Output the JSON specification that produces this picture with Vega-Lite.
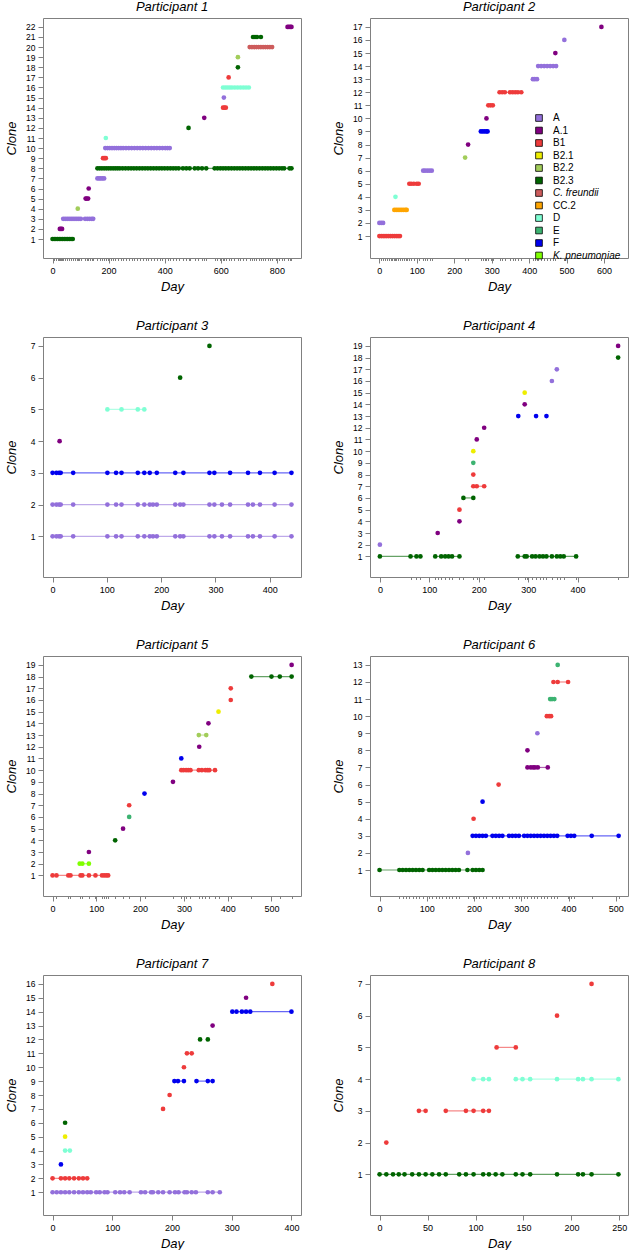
{
"$schema": "https://vega.github.io/schema/vega-lite/v6.json",
"padding": {"left": 4, "right": 0, "top": 0, "bottom": 0},
"background": "white",
"config": {
 "font": "Liberation Sans",
 "view": {"stroke": "#808080", "strokeWidth": 1},
 "title": {"fontSize": 13, "fontStyle": "italic", "fontWeight": "normal", "offset": 4, "color": "#000"},
 "axis": {"grid": false, "domain": false, "tickColor": "#808080", "tickSize": 5, "labelFontSize": 9, "labelColor": "#000", "labelPadding": 3, "titleFontSize": 13, "titleFontStyle": "italic", "titleFontWeight": "normal", "titleColor": "#000", "labelOverlap": false},
 "axisY": {"labelFontSize": 8.5, "minExtent": 17, "maxExtent": 17, "titlePadding": 8},
 "axisX": {"titlePadding": 5, "labelFlush": false}
},
"datasets": {
"p1": [
{"day":0,"clone":1,"group":"B2.3"},{"day":6,"clone":1,"group":"B2.3"},{"day":12,"clone":1,"group":"B2.3"},{"day":18,"clone":1,"group":"B2.3"},{"day":24,"clone":1,"group":"B2.3"},{"day":30,"clone":1,"group":"B2.3"},{"day":36,"clone":1,"group":"B2.3"},{"day":42,"clone":1,"group":"B2.3"},{"day":48,"clone":1,"group":"B2.3"},{"day":54,"clone":1,"group":"B2.3"},{"day":60,"clone":1,"group":"B2.3"},{"day":66,"clone":1,"group":"B2.3"},{"day":72,"clone":1,"group":"B2.3"},
{"day":26,"clone":2,"group":"A.1"},{"day":30,"clone":2,"group":"A.1"},{"day":34,"clone":2,"group":"A.1"},
{"day":38,"clone":3,"group":"A"},{"day":45,"clone":3,"group":"A"},{"day":52,"clone":3,"group":"A"},{"day":59,"clone":3,"group":"A"},{"day":66,"clone":3,"group":"A"},{"day":73,"clone":3,"group":"A"},{"day":80,"clone":3,"group":"A"},{"day":87,"clone":3,"group":"A"},{"day":94,"clone":3,"group":"A"},{"day":101,"clone":3,"group":"A"},{"day":116,"clone":3,"group":"A"},{"day":124,"clone":3,"group":"A"},{"day":132,"clone":3,"group":"A"},{"day":140,"clone":3,"group":"A"},{"day":145,"clone":3,"group":"A"},
{"day":90,"clone":4,"group":"B2.2"},
{"day":118,"clone":5,"group":"A.1"},{"day":122,"clone":5,"group":"A.1"},{"day":127,"clone":5,"group":"A.1"},
{"day":129,"clone":6,"group":"A.1"},
{"day":160,"clone":7,"group":"A"},{"day":166,"clone":7,"group":"A"},{"day":172,"clone":7,"group":"A"},{"day":178,"clone":7,"group":"A"},{"day":184,"clone":7,"group":"A"},
{"day":160,"clone":8,"group":"B2.3"},{"day":168,"clone":8,"group":"B2.3"},{"day":176,"clone":8,"group":"B2.3"},{"day":184,"clone":8,"group":"B2.3"},{"day":192,"clone":8,"group":"B2.3"},{"day":200,"clone":8,"group":"B2.3"},{"day":208,"clone":8,"group":"B2.3"},{"day":216,"clone":8,"group":"B2.3"},{"day":224,"clone":8,"group":"B2.3"},{"day":232,"clone":8,"group":"B2.3"},{"day":240,"clone":8,"group":"B2.3"},{"day":250,"clone":8,"group":"B2.3"},{"day":260,"clone":8,"group":"B2.3"},{"day":270,"clone":8,"group":"B2.3"},{"day":280,"clone":8,"group":"B2.3"},{"day":290,"clone":8,"group":"B2.3"},{"day":300,"clone":8,"group":"B2.3"},{"day":310,"clone":8,"group":"B2.3"},{"day":320,"clone":8,"group":"B2.3"},{"day":330,"clone":8,"group":"B2.3"},{"day":340,"clone":8,"group":"B2.3"},{"day":350,"clone":8,"group":"B2.3"},{"day":360,"clone":8,"group":"B2.3"},{"day":370,"clone":8,"group":"B2.3"},{"day":380,"clone":8,"group":"B2.3"},{"day":390,"clone":8,"group":"B2.3"},{"day":400,"clone":8,"group":"B2.3"},{"day":410,"clone":8,"group":"B2.3"},{"day":420,"clone":8,"group":"B2.3"},{"day":430,"clone":8,"group":"B2.3"},{"day":440,"clone":8,"group":"B2.3"},{"day":450,"clone":8,"group":"B2.3"},{"day":465,"clone":8,"group":"B2.3"},{"day":477,"clone":8,"group":"B2.3"},{"day":489,"clone":8,"group":"B2.3"},{"day":507,"clone":8,"group":"B2.3"},{"day":519,"clone":8,"group":"B2.3"},{"day":533,"clone":8,"group":"B2.3"},{"day":548,"clone":8,"group":"B2.3"},{"day":578,"clone":8,"group":"B2.3"},{"day":588,"clone":8,"group":"B2.3"},{"day":598,"clone":8,"group":"B2.3"},{"day":608,"clone":8,"group":"B2.3"},{"day":618,"clone":8,"group":"B2.3"},{"day":628,"clone":8,"group":"B2.3"},{"day":638,"clone":8,"group":"B2.3"},{"day":648,"clone":8,"group":"B2.3"},{"day":658,"clone":8,"group":"B2.3"},{"day":668,"clone":8,"group":"B2.3"},{"day":678,"clone":8,"group":"B2.3"},{"day":688,"clone":8,"group":"B2.3"},{"day":698,"clone":8,"group":"B2.3"},{"day":708,"clone":8,"group":"B2.3"},{"day":718,"clone":8,"group":"B2.3"},{"day":728,"clone":8,"group":"B2.3"},{"day":738,"clone":8,"group":"B2.3"},{"day":748,"clone":8,"group":"B2.3"},{"day":758,"clone":8,"group":"B2.3"},{"day":768,"clone":8,"group":"B2.3"},{"day":778,"clone":8,"group":"B2.3"},{"day":788,"clone":8,"group":"B2.3"},{"day":798,"clone":8,"group":"B2.3"},{"day":808,"clone":8,"group":"B2.3"},{"day":818,"clone":8,"group":"B2.3"},{"day":826,"clone":8,"group":"B2.3"},{"day":845,"clone":8,"group":"B2.3"},{"day":852,"clone":8,"group":"B2.3"},
{"day":180,"clone":9,"group":"B1"},{"day":185,"clone":9,"group":"B1"},{"day":190,"clone":9,"group":"B1"},
{"day":188,"clone":10,"group":"A"},{"day":196,"clone":10,"group":"A"},{"day":204,"clone":10,"group":"A"},{"day":212,"clone":10,"group":"A"},{"day":220,"clone":10,"group":"A"},{"day":228,"clone":10,"group":"A"},{"day":236,"clone":10,"group":"A"},{"day":244,"clone":10,"group":"A"},{"day":252,"clone":10,"group":"A"},{"day":262,"clone":10,"group":"A"},{"day":272,"clone":10,"group":"A"},{"day":282,"clone":10,"group":"A"},{"day":292,"clone":10,"group":"A"},{"day":302,"clone":10,"group":"A"},{"day":312,"clone":10,"group":"A"},{"day":322,"clone":10,"group":"A"},{"day":332,"clone":10,"group":"A"},{"day":342,"clone":10,"group":"A"},{"day":352,"clone":10,"group":"A"},{"day":362,"clone":10,"group":"A"},{"day":372,"clone":10,"group":"A"},{"day":382,"clone":10,"group":"A"},{"day":392,"clone":10,"group":"A"},{"day":402,"clone":10,"group":"A"},{"day":410,"clone":10,"group":"A"},{"day":418,"clone":10,"group":"A"},
{"day":190,"clone":11,"group":"D"},
{"day":485,"clone":12,"group":"B2.3"},
{"day":541,"clone":13,"group":"A.1"},
{"day":608,"clone":14,"group":"B1"},{"day":613,"clone":14,"group":"B1"},{"day":618,"clone":14,"group":"B1"},
{"day":611,"clone":15,"group":"A"},
{"day":608,"clone":16,"group":"D"},{"day":616,"clone":16,"group":"D"},{"day":624,"clone":16,"group":"D"},{"day":632,"clone":16,"group":"D"},{"day":640,"clone":16,"group":"D"},{"day":650,"clone":16,"group":"D"},{"day":660,"clone":16,"group":"D"},{"day":670,"clone":16,"group":"D"},{"day":680,"clone":16,"group":"D"},{"day":690,"clone":16,"group":"D"},{"day":700,"clone":16,"group":"D"},
{"day":628,"clone":17,"group":"B1"},
{"day":661,"clone":18,"group":"B2.3"},
{"day":661,"clone":19,"group":"B2.2"},
{"day":703,"clone":20,"group":"C. freundii"},{"day":711,"clone":20,"group":"C. freundii"},{"day":719,"clone":20,"group":"C. freundii"},{"day":727,"clone":20,"group":"C. freundii"},{"day":735,"clone":20,"group":"C. freundii"},{"day":743,"clone":20,"group":"C. freundii"},{"day":751,"clone":20,"group":"C. freundii"},{"day":759,"clone":20,"group":"C. freundii"},{"day":767,"clone":20,"group":"C. freundii"},{"day":775,"clone":20,"group":"C. freundii"},{"day":783,"clone":20,"group":"C. freundii"},
{"day":715,"clone":21,"group":"B2.3"},{"day":722,"clone":21,"group":"B2.3"},{"day":729,"clone":21,"group":"B2.3"},{"day":743,"clone":21,"group":"B2.3"},
{"day":838,"clone":22,"group":"A.1"},{"day":843,"clone":22,"group":"A.1"},{"day":848,"clone":22,"group":"A.1"},{"day":852,"clone":22,"group":"A.1"}
],
"p2": [
{"day":0,"clone":1,"group":"B1"},{"day":5,"clone":1,"group":"B1"},{"day":10,"clone":1,"group":"B1"},{"day":15,"clone":1,"group":"B1"},{"day":20,"clone":1,"group":"B1"},{"day":25,"clone":1,"group":"B1"},{"day":30,"clone":1,"group":"B1"},{"day":35,"clone":1,"group":"B1"},{"day":40,"clone":1,"group":"B1"},{"day":45,"clone":1,"group":"B1"},{"day":50,"clone":1,"group":"B1"},{"day":55,"clone":1,"group":"B1"},
{"day":0,"clone":2,"group":"A"},{"day":5,"clone":2,"group":"A"},{"day":10,"clone":2,"group":"A"},
{"day":40,"clone":3,"group":"CC.2"},{"day":45,"clone":3,"group":"CC.2"},{"day":50,"clone":3,"group":"CC.2"},{"day":55,"clone":3,"group":"CC.2"},{"day":60,"clone":3,"group":"CC.2"},{"day":65,"clone":3,"group":"CC.2"},{"day":70,"clone":3,"group":"CC.2"},{"day":73,"clone":3,"group":"CC.2"},
{"day":43,"clone":4,"group":"D"},
{"day":80,"clone":5,"group":"B1"},{"day":85,"clone":5,"group":"B1"},{"day":92,"clone":5,"group":"B1"},{"day":100,"clone":5,"group":"B1"},{"day":105,"clone":5,"group":"B1"},
{"day":117,"clone":6,"group":"A"},{"day":122,"clone":6,"group":"A"},{"day":128,"clone":6,"group":"A"},{"day":134,"clone":6,"group":"A"},{"day":140,"clone":6,"group":"A"},
{"day":229,"clone":7,"group":"B2.2"},
{"day":237,"clone":8,"group":"A.1"},
{"day":271,"clone":9,"group":"F"},{"day":276,"clone":9,"group":"F"},{"day":281,"clone":9,"group":"F"},{"day":286,"clone":9,"group":"F"},{"day":289,"clone":9,"group":"F"},
{"day":286,"clone":10,"group":"A.1"},
{"day":291,"clone":11,"group":"B1"},{"day":297,"clone":11,"group":"B1"},{"day":303,"clone":11,"group":"B1"},
{"day":321,"clone":12,"group":"B1"},{"day":328,"clone":12,"group":"B1"},{"day":335,"clone":12,"group":"B1"},{"day":349,"clone":12,"group":"B1"},{"day":356,"clone":12,"group":"B1"},{"day":363,"clone":12,"group":"B1"},{"day":370,"clone":12,"group":"B1"},{"day":379,"clone":12,"group":"B1"},
{"day":410,"clone":13,"group":"A"},{"day":415,"clone":13,"group":"A"},{"day":421,"clone":13,"group":"A"},
{"day":424,"clone":14,"group":"A"},{"day":432,"clone":14,"group":"A"},{"day":440,"clone":14,"group":"A"},{"day":448,"clone":14,"group":"A"},{"day":456,"clone":14,"group":"A"},{"day":464,"clone":14,"group":"A"},{"day":472,"clone":14,"group":"A"},
{"day":470,"clone":15,"group":"A.1"},
{"day":494,"clone":16,"group":"A"},
{"day":593,"clone":17,"group":"A.1"}
],
"p3": [
{"day":0,"clone":1,"group":"A"},{"day":7,"clone":1,"group":"A"},{"day":12,"clone":1,"group":"A"},{"day":15,"clone":1,"group":"A"},{"day":38,"clone":1,"group":"A"},{"day":101,"clone":1,"group":"A"},{"day":117,"clone":1,"group":"A"},{"day":127,"clone":1,"group":"A"},{"day":157,"clone":1,"group":"A"},{"day":169,"clone":1,"group":"A"},{"day":179,"clone":1,"group":"A"},{"day":185,"clone":1,"group":"A"},{"day":192,"clone":1,"group":"A"},{"day":226,"clone":1,"group":"A"},{"day":235,"clone":1,"group":"A"},{"day":241,"clone":1,"group":"A"},{"day":289,"clone":1,"group":"A"},{"day":298,"clone":1,"group":"A"},{"day":312,"clone":1,"group":"A"},{"day":327,"clone":1,"group":"A"},{"day":360,"clone":1,"group":"A"},{"day":369,"clone":1,"group":"A"},{"day":382,"clone":1,"group":"A"},{"day":409,"clone":1,"group":"A"},{"day":440,"clone":1,"group":"A"},
{"day":0,"clone":2,"group":"A"},{"day":7,"clone":2,"group":"A"},{"day":12,"clone":2,"group":"A"},{"day":15,"clone":2,"group":"A"},{"day":38,"clone":2,"group":"A"},{"day":101,"clone":2,"group":"A"},{"day":117,"clone":2,"group":"A"},{"day":127,"clone":2,"group":"A"},{"day":157,"clone":2,"group":"A"},{"day":169,"clone":2,"group":"A"},{"day":179,"clone":2,"group":"A"},{"day":185,"clone":2,"group":"A"},{"day":192,"clone":2,"group":"A"},{"day":226,"clone":2,"group":"A"},{"day":235,"clone":2,"group":"A"},{"day":241,"clone":2,"group":"A"},{"day":289,"clone":2,"group":"A"},{"day":298,"clone":2,"group":"A"},{"day":312,"clone":2,"group":"A"},{"day":327,"clone":2,"group":"A"},{"day":360,"clone":2,"group":"A"},{"day":369,"clone":2,"group":"A"},{"day":382,"clone":2,"group":"A"},{"day":409,"clone":2,"group":"A"},{"day":440,"clone":2,"group":"A"},
{"day":0,"clone":3,"group":"F"},{"day":7,"clone":3,"group":"F"},{"day":12,"clone":3,"group":"F"},{"day":15,"clone":3,"group":"F"},{"day":38,"clone":3,"group":"F"},{"day":101,"clone":3,"group":"F"},{"day":117,"clone":3,"group":"F"},{"day":127,"clone":3,"group":"F"},{"day":157,"clone":3,"group":"F"},{"day":169,"clone":3,"group":"F"},{"day":179,"clone":3,"group":"F"},{"day":192,"clone":3,"group":"F"},{"day":226,"clone":3,"group":"F"},{"day":241,"clone":3,"group":"F"},{"day":289,"clone":3,"group":"F"},{"day":298,"clone":3,"group":"F"},{"day":327,"clone":3,"group":"F"},{"day":360,"clone":3,"group":"F"},{"day":382,"clone":3,"group":"F"},{"day":409,"clone":3,"group":"F"},{"day":440,"clone":3,"group":"F"},
{"day":13,"clone":4,"group":"A.1"},
{"day":101,"clone":5,"group":"D"},{"day":127,"clone":5,"group":"D"},{"day":157,"clone":5,"group":"D"},{"day":169,"clone":5,"group":"D"},
{"day":235,"clone":6,"group":"B2.3"},
{"day":289,"clone":7,"group":"B2.3"}
],
"p4": [
{"day":0,"clone":1,"group":"B2.3","seg":"a"},{"day":62,"clone":1,"group":"B2.3","seg":"a"},{"day":74,"clone":1,"group":"B2.3","seg":"a"},{"day":82,"clone":1,"group":"B2.3","seg":"a"},
{"day":112,"clone":1,"group":"B2.3","seg":"b"},{"day":124,"clone":1,"group":"B2.3","seg":"b"},{"day":132,"clone":1,"group":"B2.3","seg":"b"},{"day":139,"clone":1,"group":"B2.3","seg":"b"},{"day":146,"clone":1,"group":"B2.3","seg":"b"},{"day":161,"clone":1,"group":"B2.3","seg":"b"},
{"day":279,"clone":1,"group":"B2.3","seg":"c"},{"day":293,"clone":1,"group":"B2.3","seg":"c"},{"day":297,"clone":1,"group":"B2.3","seg":"c"},{"day":308,"clone":1,"group":"B2.3","seg":"c"},{"day":315,"clone":1,"group":"B2.3","seg":"c"},{"day":323,"clone":1,"group":"B2.3","seg":"c"},{"day":330,"clone":1,"group":"B2.3","seg":"c"},{"day":337,"clone":1,"group":"B2.3","seg":"c"},{"day":348,"clone":1,"group":"B2.3","seg":"c"},{"day":358,"clone":1,"group":"B2.3","seg":"c"},{"day":365,"clone":1,"group":"B2.3","seg":"c"},{"day":372,"clone":1,"group":"B2.3","seg":"c"},{"day":397,"clone":1,"group":"B2.3","seg":"c"},
{"day":0,"clone":2,"group":"A"},
{"day":117,"clone":3,"group":"A.1"},
{"day":161,"clone":4,"group":"A.1"},
{"day":161,"clone":5,"group":"B1"},
{"day":169,"clone":6,"group":"B2.3"},{"day":189,"clone":6,"group":"B2.3"},
{"day":189,"clone":7,"group":"B1"},{"day":196,"clone":7,"group":"B1"},{"day":211,"clone":7,"group":"B1"},
{"day":189,"clone":8,"group":"B1"},
{"day":189,"clone":9,"group":"E"},
{"day":189,"clone":10,"group":"B2.1"},
{"day":196,"clone":11,"group":"A.1"},
{"day":211,"clone":12,"group":"A.1"},
{"day":280,"clone":13,"group":"F","seg":"a"},{"day":316,"clone":13,"group":"F","seg":"b"},{"day":337,"clone":13,"group":"F","seg":"c"},
{"day":293,"clone":14,"group":"A.1"},
{"day":293,"clone":15,"group":"B2.1"},
{"day":348,"clone":16,"group":"A"},
{"day":358,"clone":17,"group":"A"},
{"day":482,"clone":18,"group":"B2.3"},
{"day":482,"clone":19,"group":"A.1"}
],
"p5": [
{"day":0,"clone":1,"group":"B1"},{"day":9,"clone":1,"group":"B1"},{"day":36,"clone":1,"group":"B1"},{"day":41,"clone":1,"group":"B1"},{"day":64,"clone":1,"group":"B1"},{"day":68,"clone":1,"group":"B1"},{"day":83,"clone":1,"group":"B1"},{"day":98,"clone":1,"group":"B1"},{"day":113,"clone":1,"group":"B1"},{"day":118,"clone":1,"group":"B1"},{"day":123,"clone":1,"group":"B1"},{"day":127,"clone":1,"group":"B1"},
{"day":62,"clone":2,"group":"K. pneumoniae"},{"day":68,"clone":2,"group":"K. pneumoniae"},{"day":83,"clone":2,"group":"K. pneumoniae"},
{"day":83,"clone":3,"group":"A.1"},
{"day":143,"clone":4,"group":"B2.3"},
{"day":161,"clone":5,"group":"A.1"},
{"day":175,"clone":6,"group":"E"},
{"day":175,"clone":7,"group":"B1"},
{"day":210,"clone":8,"group":"F"},
{"day":275,"clone":9,"group":"A.1"},
{"day":294,"clone":10,"group":"B1"},{"day":299,"clone":10,"group":"B1"},{"day":305,"clone":10,"group":"B1"},{"day":310,"clone":10,"group":"B1"},{"day":315,"clone":10,"group":"B1"},{"day":334,"clone":10,"group":"B1"},{"day":341,"clone":10,"group":"B1"},{"day":349,"clone":10,"group":"B1"},{"day":354,"clone":10,"group":"B1"},{"day":358,"clone":10,"group":"B1"},{"day":371,"clone":10,"group":"B1"},
{"day":294,"clone":11,"group":"F"},
{"day":335,"clone":12,"group":"A.1"},
{"day":334,"clone":13,"group":"B2.2"},{"day":351,"clone":13,"group":"B2.2"},
{"day":356,"clone":14,"group":"A.1"},
{"day":379,"clone":15,"group":"B2.1"},
{"day":407,"clone":16,"group":"B1"},
{"day":407,"clone":17,"group":"B1"},
{"day":454,"clone":18,"group":"B2.3"},{"day":500,"clone":18,"group":"B2.3"},{"day":519,"clone":18,"group":"B2.3"},{"day":546,"clone":18,"group":"B2.3"},
{"day":546,"clone":19,"group":"A.1"}
],
"p6": [
{"day":0,"clone":1,"group":"B2.3"},{"day":42,"clone":1,"group":"B2.3"},{"day":49,"clone":1,"group":"B2.3"},{"day":56,"clone":1,"group":"B2.3"},{"day":63,"clone":1,"group":"B2.3"},{"day":70,"clone":1,"group":"B2.3"},{"day":77,"clone":1,"group":"B2.3"},{"day":84,"clone":1,"group":"B2.3"},{"day":91,"clone":1,"group":"B2.3"},{"day":105,"clone":1,"group":"B2.3"},{"day":112,"clone":1,"group":"B2.3"},{"day":119,"clone":1,"group":"B2.3"},{"day":126,"clone":1,"group":"B2.3"},{"day":133,"clone":1,"group":"B2.3"},{"day":140,"clone":1,"group":"B2.3"},{"day":147,"clone":1,"group":"B2.3"},{"day":154,"clone":1,"group":"B2.3"},{"day":161,"clone":1,"group":"B2.3"},{"day":168,"clone":1,"group":"B2.3"},{"day":186,"clone":1,"group":"B2.3"},{"day":197,"clone":1,"group":"B2.3"},{"day":204,"clone":1,"group":"B2.3"},{"day":211,"clone":1,"group":"B2.3"},{"day":218,"clone":1,"group":"B2.3"},
{"day":187,"clone":2,"group":"A"},
{"day":197,"clone":3,"group":"F"},{"day":204,"clone":3,"group":"F"},{"day":211,"clone":3,"group":"F"},{"day":218,"clone":3,"group":"F"},{"day":225,"clone":3,"group":"F"},{"day":239,"clone":3,"group":"F"},{"day":246,"clone":3,"group":"F"},{"day":253,"clone":3,"group":"F"},{"day":260,"clone":3,"group":"F"},{"day":274,"clone":3,"group":"F"},{"day":281,"clone":3,"group":"F"},{"day":288,"clone":3,"group":"F"},{"day":295,"clone":3,"group":"F"},{"day":306,"clone":3,"group":"F"},{"day":313,"clone":3,"group":"F"},{"day":320,"clone":3,"group":"F"},{"day":327,"clone":3,"group":"F"},{"day":334,"clone":3,"group":"F"},{"day":341,"clone":3,"group":"F"},{"day":348,"clone":3,"group":"F"},{"day":355,"clone":3,"group":"F"},{"day":362,"clone":3,"group":"F"},{"day":369,"clone":3,"group":"F"},{"day":376,"clone":3,"group":"F"},{"day":398,"clone":3,"group":"F"},{"day":405,"clone":3,"group":"F"},{"day":412,"clone":3,"group":"F"},{"day":449,"clone":3,"group":"F"},{"day":506,"clone":3,"group":"F"},
{"day":199,"clone":4,"group":"B1"},
{"day":218,"clone":5,"group":"F"},
{"day":252,"clone":6,"group":"B1"},
{"day":313,"clone":7,"group":"A.1"},{"day":320,"clone":7,"group":"A.1"},{"day":325,"clone":7,"group":"A.1"},{"day":329,"clone":7,"group":"A.1"},{"day":335,"clone":7,"group":"A.1"},{"day":356,"clone":7,"group":"A.1"},
{"day":313,"clone":8,"group":"A.1"},
{"day":334,"clone":9,"group":"A"},
{"day":354,"clone":10,"group":"B1"},{"day":359,"clone":10,"group":"B1"},{"day":363,"clone":10,"group":"B1"},
{"day":361,"clone":11,"group":"E"},{"day":365,"clone":11,"group":"E"},{"day":370,"clone":11,"group":"E"},
{"day":368,"clone":12,"group":"B1"},{"day":377,"clone":12,"group":"B1"},{"day":399,"clone":12,"group":"B1"},
{"day":377,"clone":13,"group":"E"}
],
"p7": [
{"day":0,"clone":1,"group":"A"},{"day":7,"clone":1,"group":"A"},{"day":14,"clone":1,"group":"A"},{"day":21,"clone":1,"group":"A"},{"day":28,"clone":1,"group":"A"},{"day":36,"clone":1,"group":"A"},{"day":44,"clone":1,"group":"A"},{"day":51,"clone":1,"group":"A"},{"day":58,"clone":1,"group":"A"},{"day":64,"clone":1,"group":"A"},{"day":73,"clone":1,"group":"A"},{"day":79,"clone":1,"group":"A"},{"day":87,"clone":1,"group":"A"},{"day":92,"clone":1,"group":"A"},{"day":105,"clone":1,"group":"A"},{"day":113,"clone":1,"group":"A"},{"day":120,"clone":1,"group":"A"},{"day":129,"clone":1,"group":"A"},{"day":148,"clone":1,"group":"A"},{"day":155,"clone":1,"group":"A"},{"day":165,"clone":1,"group":"A"},{"day":168,"clone":1,"group":"A"},{"day":177,"clone":1,"group":"A"},{"day":185,"clone":1,"group":"A"},{"day":196,"clone":1,"group":"A"},{"day":205,"clone":1,"group":"A"},{"day":211,"clone":1,"group":"A"},{"day":221,"clone":1,"group":"A"},{"day":225,"clone":1,"group":"A"},{"day":233,"clone":1,"group":"A"},{"day":240,"clone":1,"group":"A"},{"day":260,"clone":1,"group":"A"},{"day":268,"clone":1,"group":"A"},{"day":280,"clone":1,"group":"A"},
{"day":0,"clone":2,"group":"B1"},{"day":14,"clone":2,"group":"B1"},{"day":21,"clone":2,"group":"B1"},{"day":28,"clone":2,"group":"B1"},{"day":36,"clone":2,"group":"B1"},{"day":44,"clone":2,"group":"B1"},{"day":51,"clone":2,"group":"B1"},{"day":58,"clone":2,"group":"B1"},
{"day":14,"clone":3,"group":"F"},
{"day":21,"clone":4,"group":"D"},{"day":29,"clone":4,"group":"D"},
{"day":21,"clone":5,"group":"B2.1"},
{"day":21,"clone":6,"group":"B2.3"},
{"day":185,"clone":7,"group":"B1"},
{"day":196,"clone":8,"group":"B1"},
{"day":204,"clone":9,"group":"F","seg":"a"},{"day":210,"clone":9,"group":"F","seg":"a"},{"day":220,"clone":9,"group":"F","seg":"a"},
{"day":241,"clone":9,"group":"F","seg":"b"},{"day":260,"clone":9,"group":"F","seg":"b"},{"day":268,"clone":9,"group":"F","seg":"b"},
{"day":220,"clone":10,"group":"B1"},
{"day":225,"clone":11,"group":"B1"},{"day":233,"clone":11,"group":"B1"},
{"day":247,"clone":12,"group":"B2.3","seg":"a"},{"day":260,"clone":12,"group":"B2.3","seg":"b"},
{"day":268,"clone":13,"group":"A.1"},
{"day":301,"clone":14,"group":"F"},{"day":308,"clone":14,"group":"F"},{"day":317,"clone":14,"group":"F"},{"day":324,"clone":14,"group":"F"},{"day":331,"clone":14,"group":"F"},{"day":400,"clone":14,"group":"F"},
{"day":324,"clone":15,"group":"A.1"},
{"day":368,"clone":16,"group":"B1"}
],
"p8": [
{"day":0,"clone":1,"group":"B2.3"},{"day":7,"clone":1,"group":"B2.3"},{"day":14,"clone":1,"group":"B2.3"},{"day":20,"clone":1,"group":"B2.3"},{"day":26,"clone":1,"group":"B2.3"},{"day":34,"clone":1,"group":"B2.3"},{"day":41,"clone":1,"group":"B2.3"},{"day":48,"clone":1,"group":"B2.3"},{"day":55,"clone":1,"group":"B2.3"},{"day":62,"clone":1,"group":"B2.3"},{"day":69,"clone":1,"group":"B2.3"},{"day":83,"clone":1,"group":"B2.3"},{"day":90,"clone":1,"group":"B2.3"},{"day":98,"clone":1,"group":"B2.3"},{"day":108,"clone":1,"group":"B2.3"},{"day":114,"clone":1,"group":"B2.3"},{"day":121,"clone":1,"group":"B2.3"},{"day":128,"clone":1,"group":"B2.3"},{"day":142,"clone":1,"group":"B2.3"},{"day":149,"clone":1,"group":"B2.3"},{"day":157,"clone":1,"group":"B2.3"},{"day":185,"clone":1,"group":"B2.3"},{"day":207,"clone":1,"group":"B2.3"},{"day":212,"clone":1,"group":"B2.3"},{"day":221,"clone":1,"group":"B2.3"},{"day":249,"clone":1,"group":"B2.3"},
{"day":7,"clone":2,"group":"B1"},
{"day":41,"clone":3,"group":"B1","seg":"a"},{"day":48,"clone":3,"group":"B1","seg":"a"},
{"day":69,"clone":3,"group":"B1","seg":"b"},{"day":90,"clone":3,"group":"B1","seg":"b"},{"day":98,"clone":3,"group":"B1","seg":"b"},{"day":108,"clone":3,"group":"B1","seg":"b"},{"day":114,"clone":3,"group":"B1","seg":"b"},
{"day":98,"clone":4,"group":"D","seg":"a"},{"day":108,"clone":4,"group":"D","seg":"a"},{"day":114,"clone":4,"group":"D","seg":"a"},
{"day":142,"clone":4,"group":"D","seg":"b"},{"day":149,"clone":4,"group":"D","seg":"b"},{"day":157,"clone":4,"group":"D","seg":"b"},{"day":185,"clone":4,"group":"D","seg":"b"},{"day":207,"clone":4,"group":"D","seg":"b"},{"day":212,"clone":4,"group":"D","seg":"b"},{"day":221,"clone":4,"group":"D","seg":"b"},{"day":249,"clone":4,"group":"D","seg":"b"},
{"day":122,"clone":5,"group":"B1"},{"day":142,"clone":5,"group":"B1"},
{"day":185,"clone":6,"group":"B1"},
{"day":221,"clone":7,"group":"B1"}
]
},
"spacing": 25,
"resolve": {"scale": {"fill": "independent", "stroke": "independent"}, "legend": {"fill": "independent", "stroke": "independent"}},
"vconcat": [
{"spacing": 29, "resolve": {"scale": {"fill": "independent", "stroke": "independent"}, "legend": {"fill": "independent", "stroke": "independent"}},
 "hconcat": [
 {"title": "Participant 1", "width": 258, "height": 240, "data": {"name": "p1"},
  "encoding": {"x": {"field": "day", "type": "quantitative", "scale": {"domain": [-34, 886], "nice": false, "zero": false}, "axis": {"title": "Day",
     "values": [0,200,400,600,800,6,12,18,24,26,30,34,38,45,52,59,66,72,80,87,90,94,101,116,122,127,132,140,145,160,168,176,184,190,196,208,216,224,232,244,252,262,272,282,292,302,312,322,332,342,352,362,372,382,392,402,410,418,430,440,450,465,477,485,489,507,519,533,541,548,578,588,598,608,613,618,628,638,648,661,670,680,690,703,711,719,727,735,743,751,759,767,775,783,798,808,818,826,838,845,852],
     "tickSize": {"condition": {"test": "indexof([0,200,400,600,800], datum.value) < 0", "value": 2.5}, "value": 5},
     "labelExpr": "indexof([0,200,400,600,800], datum.value) >= 0 ? datum.label : ''"}},
   "y": {"field": "clone", "type": "quantitative", "scale": {"domain": [-0.88, 22.88], "nice": false, "zero": false}, "axis": {"values": [1,2,3,4,5,6,7,8,9,10,11,12,13,14,15,16,17,18,19,20,21,22], "title": "Clone"}}},
  "layer": [
   {"mark": {"type": "line", "strokeWidth": 1.2, "opacity": 0.6}, "encoding": {"detail": [{"field": "clone", "type": "nominal"}, {"field": "seg", "type": "nominal"}], "stroke": {"field": "group", "type": "nominal", "legend": null, "scale": {"domain": ["K. pneumoniae","F","E","D","CC.2","C. freundii","B2.3","B2.2","B2.1","B1","A.1","A"], "range": ["#7FFF00","#0000EE","#3CB371","#7FFFD4","#FFA500","#CD5C5C","#006400","#A2CD5A","#EEEE00","#EE3B3B","#800080","#9370DB"]}}}},
   {"mark": {"type": "point", "filled": true, "size": 22, "opacity": 1}, "encoding": {"fill": {"field": "group", "type": "nominal", "legend": null, "scale": {"domain": ["A","A.1","B1","B2.1","B2.2","B2.3","C. freundii","CC.2","D","E","F","K. pneumoniae"], "range": ["#9370DB","#800080","#EE3B3B","#EEEE00","#A2CD5A","#006400","#CD5C5C","#FFA500","#7FFFD4","#3CB371","#0000EE","#7FFF00"]}}}}
  ]},
 {"title": "Participant 2", "width": 258, "height": 240, "data": {"name": "p2"},
  "encoding": {"x": {"field": "day", "type": "quantitative", "scale": {"domain": [-25, 664], "nice": false, "zero": false}, "axis": {"title": "Day",
     "values": [0,100,200,300,400,500,600,5,10,15,20,25,30,35,40,43,45,50,55,60,65,70,73,80,85,92,105,117,122,128,134,140,229,237,271,276,281,286,291,297,303,321,328,335,349,356,363,370,379,410,415,421,424,432,440,448,456,464,470,494,593],
     "tickSize": {"condition": {"test": "indexof([0,100,200,300,400,500,600], datum.value) < 0", "value": 2.5}, "value": 5},
     "labelExpr": "indexof([0,100,200,300,400,500,600], datum.value) >= 0 ? datum.label : ''"}},
   "y": {"field": "clone", "type": "quantitative", "scale": {"domain": [-0.68, 17.68], "nice": false, "zero": false}, "axis": {"values": [1,2,3,4,5,6,7,8,9,10,11,12,13,14,15,16,17], "title": "Clone"}}},
  "layer": [
   {"mark": {"type": "line", "strokeWidth": 1.2, "opacity": 0.6}, "encoding": {"detail": [{"field": "clone", "type": "nominal"}, {"field": "seg", "type": "nominal"}], "stroke": {"field": "group", "type": "nominal", "legend": null, "scale": {"domain": ["K. pneumoniae","F","E","D","CC.2","C. freundii","B2.3","B2.2","B2.1","B1","A.1","A"], "range": ["#7FFF00","#0000EE","#3CB371","#7FFFD4","#FFA500","#CD5C5C","#006400","#A2CD5A","#EEEE00","#EE3B3B","#800080","#9370DB"]}}}},
   {"mark": {"type": "point", "filled": true, "size": 22, "opacity": 1}, "encoding": {"fill": {"field": "group", "type": "nominal", "scale": {"domain": ["A","A.1","B1","B2.1","B2.2","B2.3","C. freundii","CC.2","D","E","F","K. pneumoniae"], "range": ["#9370DB","#800080","#EE3B3B","#EEEE00","#A2CD5A","#006400","#CD5C5C","#FFA500","#7FFFD4","#3CB371","#0000EE","#7FFF00"]},
     "legend": {"orient": "none", "legendX": 164, "legendY": 95, "title": null, "padding": 0, "symbolType": "square", "symbolSize": 45, "symbolStrokeColor": "#000", "symbolStrokeWidth": 0.8, "symbolOpacity": 1, "labelFontSize": 10, "labelColor": "#000", "labelOffset": 9, "rowPadding": 2.5,
      "encode": {"labels": {"update": {"fontStyle": {"signal": "indexof(['C. freundii','K. pneumoniae'], datum.label) >= 0 ? 'italic' : 'normal'"}}}}}}}}
  ]}
 ]},
{"spacing": 29, "resolve": {"scale": {"fill": "independent", "stroke": "independent"}, "legend": {"fill": "independent", "stroke": "independent"}},
 "hconcat": [
 {"title": "Participant 3", "width": 258, "height": 240, "data": {"name": "p3"},
  "encoding": {"x": {"field": "day", "type": "quantitative", "scale": {"domain": [-17.6, 457.6], "nice": false, "zero": false}, "axis": {"values": [0,100,200,300,400], "title": "Day"}},
   "y": {"field": "clone", "type": "quantitative", "scale": {"domain": [-0.28, 7.28], "nice": false, "zero": false}, "axis": {"values": [1,2,3,4,5,6,7], "title": "Clone"}}},
  "layer": [
   {"mark": {"type": "line", "strokeWidth": 1.2, "opacity": 0.6}, "encoding": {"detail": [{"field": "clone", "type": "nominal"}, {"field": "seg", "type": "nominal"}], "stroke": {"field": "group", "type": "nominal", "legend": null, "scale": {"domain": ["K. pneumoniae","F","E","D","CC.2","C. freundii","B2.3","B2.2","B2.1","B1","A.1","A"], "range": ["#7FFF00","#0000EE","#3CB371","#7FFFD4","#FFA500","#CD5C5C","#006400","#A2CD5A","#EEEE00","#EE3B3B","#800080","#9370DB"]}}}},
   {"mark": {"type": "point", "filled": true, "size": 22, "opacity": 1}, "encoding": {"fill": {"field": "group", "type": "nominal", "legend": null, "scale": {"domain": ["A","A.1","B1","B2.1","B2.2","B2.3","C. freundii","CC.2","D","E","F","K. pneumoniae"], "range": ["#9370DB","#800080","#EE3B3B","#EEEE00","#A2CD5A","#006400","#CD5C5C","#FFA500","#7FFFD4","#3CB371","#0000EE","#7FFF00"]}}}}
  ]},
 {"title": "Participant 4", "width": 258, "height": 240, "data": {"name": "p4"},
  "encoding": {"x": {"field": "day", "type": "quantitative", "scale": {"domain": [-20, 502], "nice": false, "zero": false}, "axis": {"title": "Day",
     "values": [0,100,200,300,400,62,74,82,112,117,124,132,139,146,161,169,189,196,211,279,293,297,308,316,323,330,337,348,358,365,372,397,482],
     "tickSize": {"condition": {"test": "indexof([0,100,200,300,400], datum.value) < 0", "value": 2.5}, "value": 5},
     "labelExpr": "indexof([0,100,200,300,400], datum.value) >= 0 ? datum.label : ''"}},
   "y": {"field": "clone", "type": "quantitative", "scale": {"domain": [-0.76, 19.76], "nice": false, "zero": false}, "axis": {"values": [1,2,3,4,5,6,7,8,9,10,11,12,13,14,15,16,17,18,19], "title": "Clone"}}},
  "layer": [
   {"mark": {"type": "line", "strokeWidth": 1.2, "opacity": 0.6}, "encoding": {"detail": [{"field": "clone", "type": "nominal"}, {"field": "seg", "type": "nominal"}], "stroke": {"field": "group", "type": "nominal", "legend": null, "scale": {"domain": ["K. pneumoniae","F","E","D","CC.2","C. freundii","B2.3","B2.2","B2.1","B1","A.1","A"], "range": ["#7FFF00","#0000EE","#3CB371","#7FFFD4","#FFA500","#CD5C5C","#006400","#A2CD5A","#EEEE00","#EE3B3B","#800080","#9370DB"]}}}},
   {"mark": {"type": "point", "filled": true, "size": 22, "opacity": 1}, "encoding": {"fill": {"field": "group", "type": "nominal", "legend": null, "scale": {"domain": ["A","A.1","B1","B2.1","B2.2","B2.3","C. freundii","CC.2","D","E","F","K. pneumoniae"], "range": ["#9370DB","#800080","#EE3B3B","#EEEE00","#A2CD5A","#006400","#CD5C5C","#FFA500","#7FFFD4","#3CB371","#0000EE","#7FFF00"]}}}}
  ]}
 ]},
{"spacing": 29, "resolve": {"scale": {"fill": "independent", "stroke": "independent"}, "legend": {"fill": "independent", "stroke": "independent"}},
 "hconcat": [
 {"title": "Participant 5", "width": 258, "height": 240, "data": {"name": "p5"},
  "encoding": {"x": {"field": "day", "type": "quantitative", "scale": {"domain": [-21.8, 567.4], "nice": false, "zero": false}, "axis": {"title": "Day",
     "values": [0,100,200,300,400,500,9,36,41,62,68,83,98,113,118,123,127,143,161,175,210,275,294,305,315,334,341,349,358,371,379,407,454,519,546],
     "tickSize": {"condition": {"test": "indexof([0,100,200,300,400,500], datum.value) < 0", "value": 2.5}, "value": 5},
     "labelExpr": "indexof([0,100,200,300,400,500], datum.value) >= 0 ? datum.label : ''"}},
   "y": {"field": "clone", "type": "quantitative", "scale": {"domain": [-0.76, 19.76], "nice": false, "zero": false}, "axis": {"values": [1,2,3,4,5,6,7,8,9,10,11,12,13,14,15,16,17,18,19], "title": "Clone"}}},
  "layer": [
   {"mark": {"type": "line", "strokeWidth": 1.2, "opacity": 0.6}, "encoding": {"detail": [{"field": "clone", "type": "nominal"}, {"field": "seg", "type": "nominal"}], "stroke": {"field": "group", "type": "nominal", "legend": null, "scale": {"domain": ["K. pneumoniae","F","E","D","CC.2","C. freundii","B2.3","B2.2","B2.1","B1","A.1","A"], "range": ["#7FFF00","#0000EE","#3CB371","#7FFFD4","#FFA500","#CD5C5C","#006400","#A2CD5A","#EEEE00","#EE3B3B","#800080","#9370DB"]}}}},
   {"mark": {"type": "point", "filled": true, "size": 22, "opacity": 1}, "encoding": {"fill": {"field": "group", "type": "nominal", "legend": null, "scale": {"domain": ["A","A.1","B1","B2.1","B2.2","B2.3","C. freundii","CC.2","D","E","F","K. pneumoniae"], "range": ["#9370DB","#800080","#EE3B3B","#EEEE00","#A2CD5A","#006400","#CD5C5C","#FFA500","#7FFFD4","#3CB371","#0000EE","#7FFF00"]}}}}
  ]},
 {"title": "Participant 6", "width": 258, "height": 240, "data": {"name": "p6"},
  "encoding": {"x": {"field": "day", "type": "quantitative", "scale": {"domain": [-20.2, 525.8], "nice": false, "zero": false}, "axis": {"title": "Day",
     "values": [0,100,200,300,400,500,42,49,56,63,70,77,84,91,105,112,119,126,133,140,147,154,161,168,187,197,204,211,218,225,239,246,253,260,274,281,288,295,306,313,320,327,334,341,348,355,362,369,376,398,405,412,449,506],
     "tickSize": {"condition": {"test": "indexof([0,100,200,300,400,500], datum.value) < 0", "value": 2.5}, "value": 5},
     "labelExpr": "indexof([0,100,200,300,400,500], datum.value) >= 0 ? datum.label : ''"}},
   "y": {"field": "clone", "type": "quantitative", "scale": {"domain": [-0.52, 13.52], "nice": false, "zero": false}, "axis": {"values": [1,2,3,4,5,6,7,8,9,10,11,12,13], "title": "Clone"}}},
  "layer": [
   {"mark": {"type": "line", "strokeWidth": 1.2, "opacity": 0.6}, "encoding": {"detail": [{"field": "clone", "type": "nominal"}, {"field": "seg", "type": "nominal"}], "stroke": {"field": "group", "type": "nominal", "legend": null, "scale": {"domain": ["K. pneumoniae","F","E","D","CC.2","C. freundii","B2.3","B2.2","B2.1","B1","A.1","A"], "range": ["#7FFF00","#0000EE","#3CB371","#7FFFD4","#FFA500","#CD5C5C","#006400","#A2CD5A","#EEEE00","#EE3B3B","#800080","#9370DB"]}}}},
   {"mark": {"type": "point", "filled": true, "size": 22, "opacity": 1}, "encoding": {"fill": {"field": "group", "type": "nominal", "legend": null, "scale": {"domain": ["A","A.1","B1","B2.1","B2.2","B2.3","C. freundii","CC.2","D","E","F","K. pneumoniae"], "range": ["#9370DB","#800080","#EE3B3B","#EEEE00","#A2CD5A","#006400","#CD5C5C","#FFA500","#7FFFD4","#3CB371","#0000EE","#7FFF00"]}}}}
  ]}
 ]},
{"spacing": 29, "resolve": {"scale": {"fill": "independent", "stroke": "independent"}, "legend": {"fill": "independent", "stroke": "independent"}},
 "hconcat": [
 {"title": "Participant 7", "width": 258, "height": 240, "data": {"name": "p7"},
  "encoding": {"x": {"field": "day", "type": "quantitative", "scale": {"domain": [-16, 416], "nice": false, "zero": false}, "axis": {"values": [0,100,200,300,400], "title": "Day"}},
   "y": {"field": "clone", "type": "quantitative", "scale": {"domain": [-0.64, 16.64], "nice": false, "zero": false}, "axis": {"values": [1,2,3,4,5,6,7,8,9,10,11,12,13,14,15,16], "title": "Clone"}}},
  "layer": [
   {"mark": {"type": "line", "strokeWidth": 1.2, "opacity": 0.6}, "encoding": {"detail": [{"field": "clone", "type": "nominal"}, {"field": "seg", "type": "nominal"}], "stroke": {"field": "group", "type": "nominal", "legend": null, "scale": {"domain": ["K. pneumoniae","F","E","D","CC.2","C. freundii","B2.3","B2.2","B2.1","B1","A.1","A"], "range": ["#7FFF00","#0000EE","#3CB371","#7FFFD4","#FFA500","#CD5C5C","#006400","#A2CD5A","#EEEE00","#EE3B3B","#800080","#9370DB"]}}}},
   {"mark": {"type": "point", "filled": true, "size": 22, "opacity": 1}, "encoding": {"fill": {"field": "group", "type": "nominal", "legend": null, "scale": {"domain": ["A","A.1","B1","B2.1","B2.2","B2.3","C. freundii","CC.2","D","E","F","K. pneumoniae"], "range": ["#9370DB","#800080","#EE3B3B","#EEEE00","#A2CD5A","#006400","#CD5C5C","#FFA500","#7FFFD4","#3CB371","#0000EE","#7FFF00"]}}}}
  ]},
 {"title": "Participant 8", "width": 258, "height": 240, "data": {"name": "p8"},
  "encoding": {"x": {"field": "day", "type": "quantitative", "scale": {"domain": [-10, 259], "nice": false, "zero": false}, "axis": {"values": [0,50,100,150,200,250], "title": "Day"}},
   "y": {"field": "clone", "type": "quantitative", "scale": {"domain": [-0.28, 7.28], "nice": false, "zero": false}, "axis": {"values": [1,2,3,4,5,6,7], "title": "Clone"}}},
  "layer": [
   {"mark": {"type": "line", "strokeWidth": 1.2, "opacity": 0.6}, "encoding": {"detail": [{"field": "clone", "type": "nominal"}, {"field": "seg", "type": "nominal"}], "stroke": {"field": "group", "type": "nominal", "legend": null, "scale": {"domain": ["K. pneumoniae","F","E","D","CC.2","C. freundii","B2.3","B2.2","B2.1","B1","A.1","A"], "range": ["#7FFF00","#0000EE","#3CB371","#7FFFD4","#FFA500","#CD5C5C","#006400","#A2CD5A","#EEEE00","#EE3B3B","#800080","#9370DB"]}}}},
   {"mark": {"type": "point", "filled": true, "size": 22, "opacity": 1}, "encoding": {"fill": {"field": "group", "type": "nominal", "legend": null, "scale": {"domain": ["A","A.1","B1","B2.1","B2.2","B2.3","C. freundii","CC.2","D","E","F","K. pneumoniae"], "range": ["#9370DB","#800080","#EE3B3B","#EEEE00","#A2CD5A","#006400","#CD5C5C","#FFA500","#7FFFD4","#3CB371","#0000EE","#7FFF00"]}}}}
  ]}
 ]}
]
}
